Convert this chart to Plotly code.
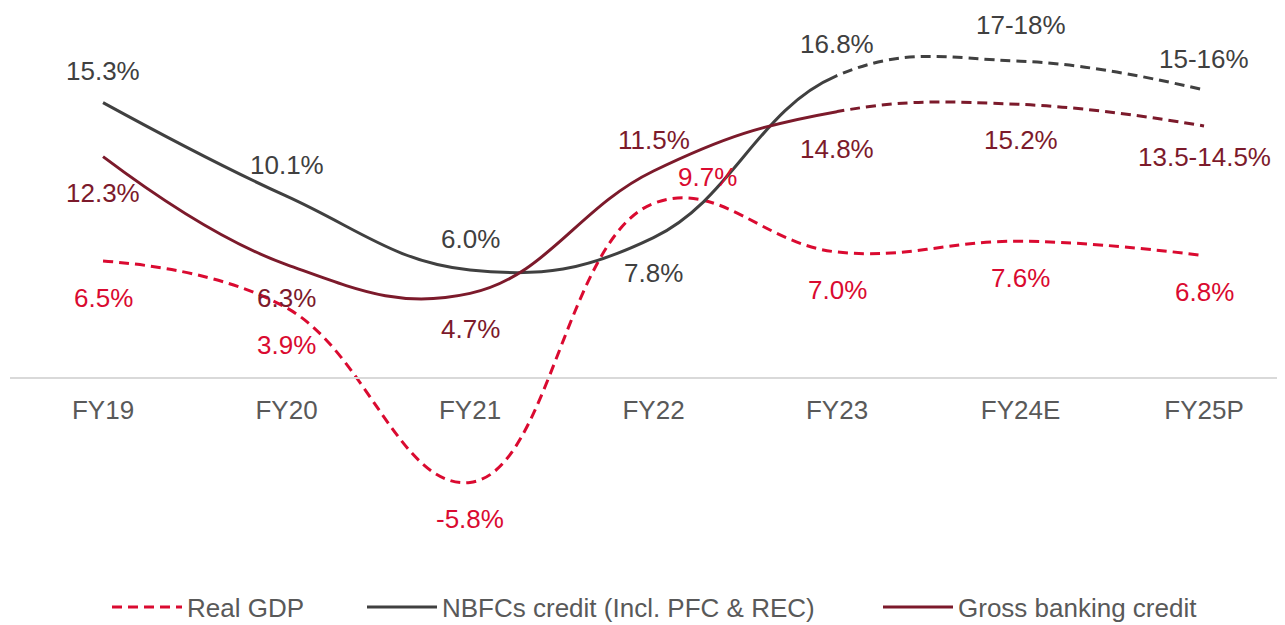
import plotly.graph_objects as go

years = ['FY19', 'FY20', 'FY21', 'FY22', 'FY23', 'FY24E', 'FY25P']

real_gdp = [6.5, 3.9, -5.8, 9.7, 7.0, 7.6, 6.8]
nbfc_credit = [15.3, 10.1, 6.0, 7.8, 16.8, 17.6, 16.0]
bank_credit = [12.3, 6.3, 4.7, 11.5, 14.8, 15.2, 14.0]

gdp_labels = ['6.5%', '3.9%', '-5.8%', '9.7%', '7.0%', '7.6%', '6.8%']
nbfc_labels = ['15.3%', '10.1%', '6.0%', '7.8%', '16.8%', '17-18%', '15-16%']
bank_labels = ['12.3%', '6.3%', '4.7%', '11.5%', '14.8%', '15.2%', '13.5-14.5%']

RED = '#DA0A30'
GREY = '#404040'
MAROON = '#7C1A2B'
FONT = 'Arial, Liberation Sans, sans-serif'

# page body adds an 8px margin, so the figure is sized to fit inside the window
W, H = 1277, 617
L, B = 2, 67
plot_w = W - L
plot_h = H - B

# x range shared by all axes; FY23 splits actuals (solid) from estimates (dashed)
X0 = -0.507
X1 = X0 + plot_w / 183.5
SPLIT = 4
split_frac = (SPLIT - X0) / (X1 - X0)
Y0, Y1 = -10, 20.556

fig = go.Figure()

fig.add_trace(go.Scatter(
    x=years, y=real_gdp, mode='lines', name='Real GDP', legend='legend',
    line=dict(color=RED, width=3, dash='10px,6px', shape='spline', smoothing=1.2)))

# same full spline drawn twice, clipped to each side of FY23
for vals, color, name, lg in [(nbfc_credit, GREY, 'NBFCs credit (Incl. PFC & REC)', 'legend2'),
                              (bank_credit, MAROON, 'Gross banking credit', 'legend3')]:
    fig.add_trace(go.Scatter(
        x=years, y=vals, mode='lines', name=name, legend=lg, xaxis='x2',
        line=dict(color=color, width=3, shape='spline', smoothing=1.2)))
    fig.add_trace(go.Scatter(
        x=years, y=vals, mode='lines', showlegend=False, xaxis='x3',
        line=dict(color=color, width=3, dash='10px,6px', shape='spline', smoothing=1.2)))

# label offsets in px (positive = up)
nbfc_shift = [32, 31, 31, -35, 32, 36, 31]
bank_shift = [-36, -33, -36, 31, -37, -36, -31]
gdp_shift = [-37, -37, -37, 26, -38, -37, -36]
gdp_xshift = [0, 0, 0, 54, 0, 0, 0]

for i, yr in enumerate(years):
    fig.add_annotation(x=yr, y=nbfc_credit[i], text=nbfc_labels[i], showarrow=False,
                       yshift=nbfc_shift[i], font=dict(color=GREY, size=26, family=FONT))
    fig.add_annotation(x=yr, y=bank_credit[i], text=bank_labels[i], showarrow=False,
                       yshift=bank_shift[i], font=dict(color=MAROON, size=26, family=FONT))
    fig.add_annotation(x=yr, y=real_gdp[i], text=gdp_labels[i], showarrow=False,
                       yshift=gdp_shift[i], xshift=gdp_xshift[i],
                       font=dict(color=RED, size=26, family=FONT))

fig.update_layout(
    xaxis=dict(range=[X0, X1], anchor='free', position=-Y0 / (Y1 - Y0),
               showline=True, linecolor='#D9D9D9', linewidth=1.5,
               showgrid=False, zeroline=False, ticks='', ticklabelstandoff=9,
               tickfont=dict(color='#595959', size=26, family=FONT)),
    xaxis2=dict(domain=[0, split_frac], range=[X0, SPLIT], anchor='y', visible=False),
    xaxis3=dict(domain=[split_frac, 1], range=[SPLIT, X1], anchor='y', visible=False),
    yaxis=dict(range=[Y0, Y1], visible=False, showgrid=False, zeroline=False),
)

leg = dict(orientation='h', y=(plot_h - 599) / plot_h, yanchor='middle', xanchor='left',
           itemwidth=70, bgcolor='rgba(0,0,0,0)',
           font=dict(color='#595959', size=26, family=FONT))

fig.update_layout(
    width=W, height=H,
    margin=dict(l=L, r=0, t=0, b=B, autoexpand=False),
    plot_bgcolor='rgba(0,0,0,0)', paper_bgcolor='white',
    font=dict(family=FONT),
    legend=dict(leg, x=(112 - 15) / plot_w),
    legend2=dict(leg, x=(367 - 15) / plot_w),
    legend3=dict(leg, x=(883 - 15) / plot_w),
)

fig.write_html('out.html')
